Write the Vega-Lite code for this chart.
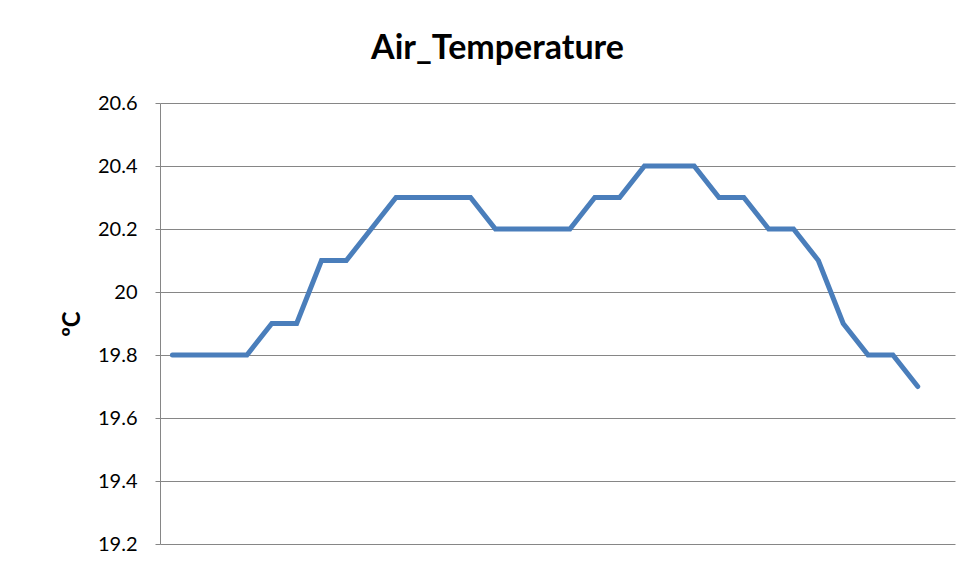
{
  "$schema": "https://vega.github.io/schema/vega-lite/v6.json",
  "autosize": {"type": "none"},
  "padding": {"left": 160, "top": 103, "right": 16, "bottom": 30},
  "width": 795,
  "height": 441,
  "background": "white",
  "title": {
    "text": "Air_Temperature",
    "font": "Lato",
    "fontSize": 34,
    "fontWeight": "bold",
    "color": "#000000",
    "anchor": "middle",
    "dx": -60,
    "offset": 27
  },
  "data": {
    "values": [
      {"t": 1, "temp": 19.8}, {"t": 2, "temp": 19.8}, {"t": 3, "temp": 19.8}, {"t": 4, "temp": 19.8},
      {"t": 5, "temp": 19.9}, {"t": 6, "temp": 19.9}, {"t": 7, "temp": 20.1}, {"t": 8, "temp": 20.1},
      {"t": 9, "temp": 20.2}, {"t": 10, "temp": 20.3}, {"t": 11, "temp": 20.3}, {"t": 12, "temp": 20.3},
      {"t": 13, "temp": 20.3}, {"t": 14, "temp": 20.2}, {"t": 15, "temp": 20.2}, {"t": 16, "temp": 20.2},
      {"t": 17, "temp": 20.2}, {"t": 18, "temp": 20.3}, {"t": 19, "temp": 20.3}, {"t": 20, "temp": 20.4},
      {"t": 21, "temp": 20.4}, {"t": 22, "temp": 20.4}, {"t": 23, "temp": 20.3}, {"t": 24, "temp": 20.3},
      {"t": 25, "temp": 20.2}, {"t": 26, "temp": 20.2}, {"t": 27, "temp": 20.1}, {"t": 28, "temp": 19.9},
      {"t": 29, "temp": 19.8}, {"t": 30, "temp": 19.8}, {"t": 31, "temp": 19.7}
    ]
  },
  "mark": {"type": "line", "color": "#4A7EBB", "strokeWidth": 5, "strokeCap": "round", "strokeJoin": "miter"},
  "encoding": {
    "x": {
      "field": "t",
      "type": "quantitative",
      "scale": {"domain": [0.5, 32.5], "nice": false, "zero": false},
      "axis": null
    },
    "y": {
      "field": "temp",
      "type": "quantitative",
      "scale": {"domain": [19.2, 20.6], "nice": false, "zero": false},
      "axis": {
        "title": "ºC",
        "titleFont": "Lato",
        "titleFontSize": 24,
        "titleFontWeight": "bold",
        "titleColor": "#000000",
        "titlePadding": 13,
        "values": [19.2, 19.4, 19.6, 19.8, 20.0, 20.2, 20.4, 20.6],
        "format": ".1~f",
        "labelFont": "Lato",
        "labelFontSize": 20,
        "labelColor": "#000000",
        "labelPadding": 18,
        "tickSize": 5,
        "tickColor": "#868686",
        "domainColor": "#868686",
        "gridColor": "#868686",
        "gridWidth": 1,
        "gridOpacity": 1,
        "grid": true
      }
    }
  },
  "config": {"view": {"stroke": null}}
}
